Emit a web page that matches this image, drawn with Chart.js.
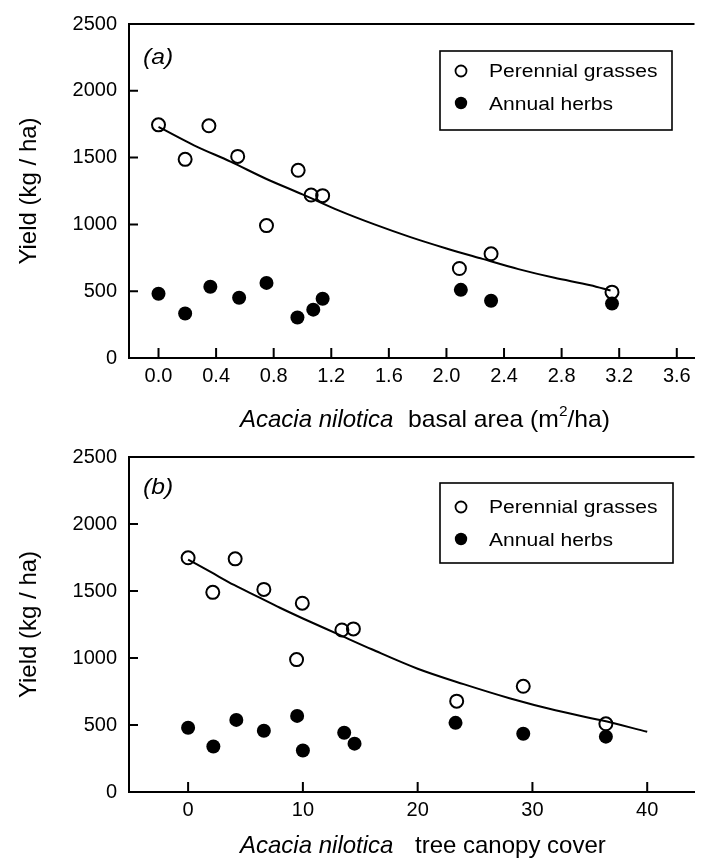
<!DOCTYPE html>
<html>
<head>
<meta charset="utf-8">
<script src="https://cdn.jsdelivr.net/npm/chart.js@4.4.1/dist/chart.umd.min.js"></script>
<style>
  body { margin: 0; background: #fff; }
  .panel { position: relative; width: 703px; }
  #panelA { height: 433px; }
  #panelB { height: 428px; }
</style>
</head>
<body>
<div class="panel" id="panelA"><canvas id="chartA"></canvas></div>
<div class="panel" id="panelB"><canvas id="chartB"></canvas></div>
<script>
// (a) yield against Acacia nilotica basal area (m2/ha)
const basalPerennialX = [0, 0.185, 0.35, 0.55, 0.75, 0.97, 1.06, 1.14, 2.09, 2.31, 3.15];
const basalPerennialY = [1745, 1487, 1738, 1509, 991, 1405, 1220, 1215, 670, 780, 493];
const basalAnnualX = [0, 0.185, 0.36, 0.56, 0.75, 0.965, 1.075, 1.14, 2.10, 2.31, 3.15];
const basalAnnualY = [481, 333, 533, 451, 562, 303, 362, 444, 510, 429, 407];
const basalFitX = [0, 0.25, 0.5, 0.75, 1.0, 1.25, 1.5, 1.75, 2.0, 2.25, 2.5, 2.75, 3.0, 3.14];
const basalFitY = [1730, 1590, 1470, 1340, 1225, 1105, 1000, 905, 820, 742, 665, 600, 545, 505];
const basalTicks = [0, 0.4, 0.8, 1.2, 1.6, 2.0, 2.4, 2.8, 3.2, 3.6];

// (b) yield against tree canopy cover
const canopyPerennialX = [0, 2.15, 4.1, 6.6, 9.95, 13.4, 14.4, 9.45, 23.4, 29.2, 36.4];
const canopyPerennialY = [1748, 1490, 1740, 1512, 1409, 1209, 1217, 988, 678, 789, 509];
const canopyAnnualX = [0, 2.2, 4.2, 6.6, 9.5, 10.0, 13.6, 14.5, 23.3, 29.2, 36.4];
const canopyAnnualY = [479, 339, 538, 457, 568, 310, 442, 361, 516, 435, 413];
const canopyFitX = [0, 2, 4, 6, 8, 10, 13, 16, 20, 24, 28, 32, 36, 40];
const canopyFitY = [1735, 1640, 1545, 1460, 1375, 1295, 1180, 1065, 920, 805, 700, 610, 535, 450];
const canopyTicks = [0, 10, 20, 30, 40];

const yieldTicks = [0, 500, 1000, 1500, 2000, 2500];
const seriesNames = ['Perennial grasses', 'Annual herbs'];

const FONT = '"Liberation Sans", Arial, sans-serif';

function toPoints(xs, ys) {
    return xs.map((x, i) => ({ x: x, y: ys[i] }));
}

// draws text pieces one after another, stretched sideways by sx
function drawRun(ctx, runs, x, y, sx) {
    ctx.save();
    ctx.translate(x, y);
    ctx.scale(sx, 1);
    let cx = 0;
    runs.forEach(r => {
        ctx.font = r.font;
        ctx.fillText(r.text, cx, r.dy || 0);
        cx += ctx.measureText(r.text).width;
    });
    ctx.restore();
}

function runWidth(ctx, runs) {
    let w = 0;
    runs.forEach(r => { ctx.font = r.font; w += ctx.measureText(r.text).width; });
    return w;
}

const decorPlugin = {
    id: 'panelDecor',
    afterDraw(chart, args, o) {
        const ctx = chart.ctx;
        const a = chart.chartArea;
        const xs = chart.scales.x, ys = chart.scales.y;
        ctx.save();
        ctx.strokeStyle = '#000';
        ctx.fillStyle = '#000';

        // top edge of the frame and tick marks pointing inwards
        ctx.lineWidth = 2;
        ctx.beginPath();
        ctx.moveTo(a.left - 1, a.top);
        ctx.lineTo(a.right, a.top);
        xs.ticks.forEach(t => {
            const px = xs.getPixelForValue(t.value);
            ctx.moveTo(px, a.bottom);
            ctx.lineTo(px, a.bottom - 10);
        });
        ys.ticks.forEach(t => {
            const py = ys.getPixelForValue(t.value);
            ctx.moveTo(a.left, py);
            ctx.lineTo(a.left + 9, py);
        });
        ctx.stroke();

        ctx.textAlign = 'left';
        ctx.textBaseline = 'alphabetic';

        // panel letter
        drawRun(ctx, [{ text: o.letter, font: 'italic 22px ' + FONT }], a.left + 14, o.letterY, 1.12);

        // legend
        const b = o.legend.box;
        ctx.lineWidth = 1.6;
        ctx.strokeRect(b[0], b[1], b[2], b[3]);
        const dotX = b[0] + 21;
        ctx.lineWidth = 1.8;
        ctx.beginPath();
        ctx.arc(dotX, o.legend.dotY[0], 5.5, 0, Math.PI * 2);
        ctx.stroke();
        ctx.beginPath();
        ctx.arc(dotX, o.legend.dotY[1], 6.2, 0, Math.PI * 2);
        ctx.fill();
        seriesNames.forEach((name, i) => {
            drawRun(ctx, [{ text: name, font: '18px ' + FONT }], b[0] + 49, o.legend.textY[i], 1.17);
        });

        // x title: italic species name, then the rest
        drawRun(ctx, [{ text: 'Acacia nilotica', font: 'italic 24px ' + FONT }], 240, o.titleY, 1);
        const rest = o.titleRest;
        const sx = rest.width ? rest.width / runWidth(ctx, rest.runs) : 1;
        drawRun(ctx, rest.runs, rest.x, o.titleY, sx);

        // y title
        ctx.save();
        ctx.translate(36, (a.top + a.bottom) / 2);
        ctx.rotate(-Math.PI / 2);
        ctx.textAlign = 'center';
        ctx.font = '24px ' + FONT;
        ctx.fillText('Yield (kg / ha)', 0, 0);
        ctx.restore();

        ctx.restore();
    }
};

function makeChart(id, cfg) {
    return new Chart(document.getElementById(id), {
        type: 'scatter',
        data: {
            datasets: [
                {
                    label: 'fit',
                    type: 'line',
                    data: toPoints(cfg.fitX, cfg.fitY),
                    showLine: true,
                    borderColor: '#000',
                    borderWidth: 2,
                    pointRadius: 0,
                    cubicInterpolationMode: 'monotone',
                    fill: false
                },
                {
                    label: seriesNames[0],
                    data: toPoints(cfg.perX, cfg.perY),
                    pointStyle: 'circle',
                    pointRadius: 6.5,
                    pointBorderWidth: 2,
                    borderColor: '#000',
                    backgroundColor: 'rgba(0,0,0,0)'
                },
                {
                    label: seriesNames[1],
                    data: toPoints(cfg.annX, cfg.annY),
                    pointStyle: 'circle',
                    pointRadius: 7,
                    pointBorderWidth: 0,
                    borderColor: '#000',
                    backgroundColor: '#000'
                }
            ]
        },
        options: {
            responsive: true,
            maintainAspectRatio: false,
            animation: false,
            layout: { padding: { top: 20, left: 0, right: 0, bottom: 0 } },
            plugins: {
                legend: { display: false },
                tooltip: { enabled: false },
                panelDecor: cfg.decor
            },
            scales: {
                x: {
                    type: 'linear',
                    min: cfg.xMin,
                    max: cfg.xMax,
                    afterBuildTicks: s => { s.ticks = cfg.xTicks.map(v => ({ value: v })); },
                    afterFit: s => { s.height = cfg.xAxisHeight; },
                    grid: { display: false, drawTicks: false },
                    border: { color: '#000', width: 2 },
                    ticks: {
                        color: '#000',
                        padding: 6,
                        autoSkip: false,
                        maxRotation: 0,
                        font: { family: FONT, size: 20 },
                        callback: cfg.xFormat
                    }
                },
                y: {
                    min: 0,
                    max: 2500,
                    afterBuildTicks: s => { s.ticks = yieldTicks.map(v => ({ value: v })); },
                    afterFit: s => { s.width = 129; },
                    grid: { display: false, drawTicks: false },
                    border: { color: '#000', width: 2 },
                    ticks: {
                        color: '#000',
                        padding: 12,
                        font: { family: FONT, size: 20 },
                        callback: v => String(v)
                    }
                }
            }
        },
        plugins: [decorPlugin]
    });
}

makeChart('chartA', {
    perX: basalPerennialX, perY: basalPerennialY,
    annX: basalAnnualX, annY: basalAnnualY,
    fitX: basalFitX, fitY: basalFitY,
    xMin: -0.205, xMax: 3.723, xTicks: basalTicks,
    xFormat: v => v.toFixed(1),
    xAxisHeight: 75,
    decor: {
        letter: '(a)', letterY: 64,
        legend: { box: [440, 51, 232, 79], dotY: [71, 103], textY: [77, 110] },
        titleY: 427,
        titleRest: {
            x: 408, width: 202,
            runs: [
                { text: 'basal area (m', font: '24px ' + FONT },
                { text: '2', font: '15px ' + FONT, dy: -11 },
                { text: '/ha)', font: '24px ' + FONT }
            ]
        }
    }
});

makeChart('chartB', {
    perX: canopyPerennialX, perY: canopyPerennialY,
    annX: canopyAnnualX, annY: canopyAnnualY,
    fitX: canopyFitX, fitY: canopyFitY,
    xMin: -5.15, xMax: 44.12, xTicks: canopyTicks,
    xFormat: v => String(v),
    xAxisHeight: 69,
    decor: {
        letter: '(b)', letterY: 61,
        legend: { box: [440, 50, 233, 80], dotY: [74, 106], textY: [80, 113] },
        titleY: 420,
        titleRest: {
            x: 415, width: 0,
            runs: [{ text: 'tree canopy cover', font: '24px ' + FONT }]
        }
    }
});
</script>
</body>
</html>
